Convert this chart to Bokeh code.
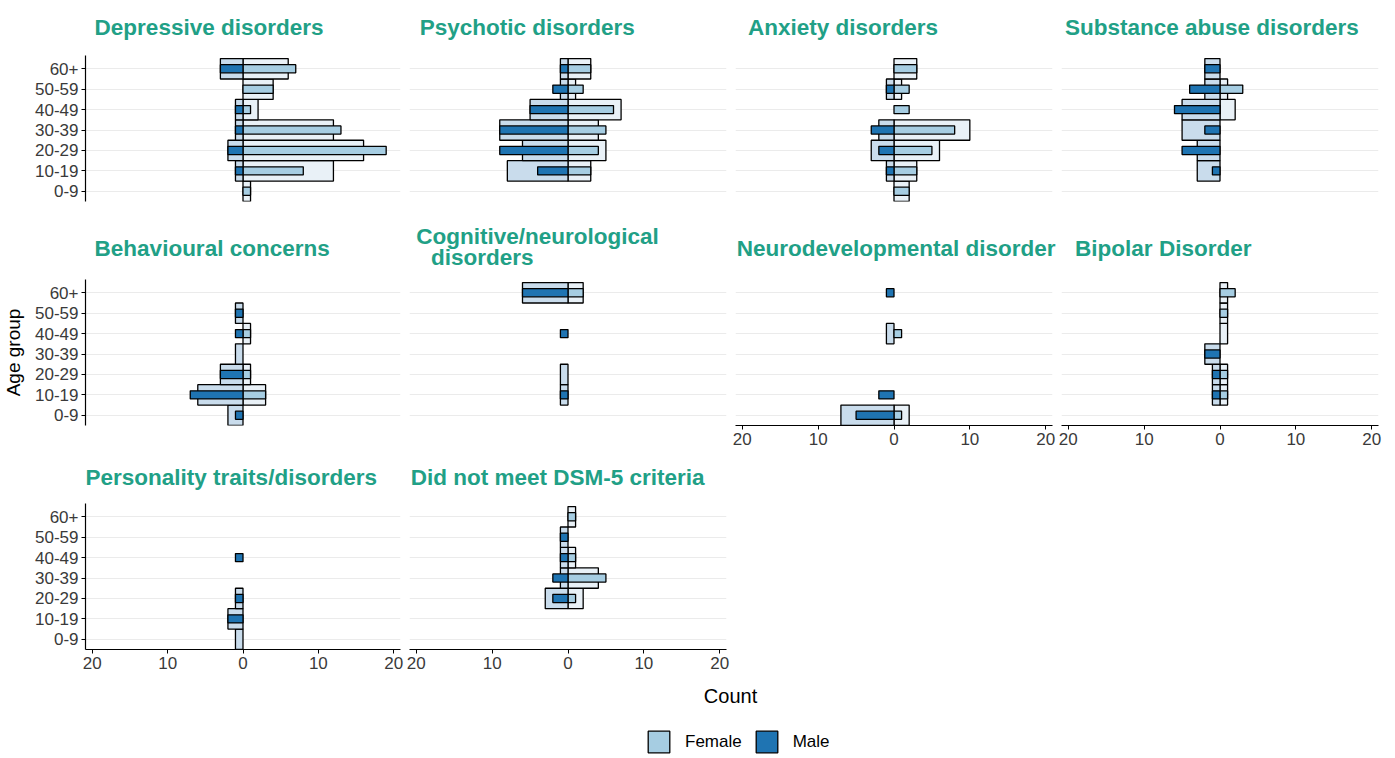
from bokeh.plotting import figure
from bokeh.layouts import gridplot, column
from bokeh.models import Range1d, FixedTicker, Title, Label, Legend, LegendItem
from bokeh.embed import file_html
from bokeh.resources import INLINE

# ---------------- data ----------------
age_groups = ["0-9", "10-19", "20-29", "30-39", "40-49", "50-59", "60+"]
x_ticks = [-20, -10, 0, 10, 20]

# counts per age group (0-9 ... 60+); "outer" = wide bars, "inner" = narrow bars
dep_f_outer = [1, 12, 16, 12, 2, 4, 6]
dep_m_outer = [0, 1, 2, 1, 1, 0, 3]
dep_f_inner = [1, 8, 19, 13, 1, 4, 7]
dep_m_inner = [0, 1, 2, 1, 1, 0, 3]

psy_f_outer = [0, 3, 5, 4, 7, 1, 3]
psy_m_outer = [0, 8, 6, 9, 5, 1, 1]
psy_f_inner = [0, 3, 4, 5, 6, 2, 3]
psy_m_inner = [0, 4, 9, 9, 5, 2, 1]

anx_f_outer = [2, 3, 6, 10, 0, 1, 3]
anx_m_outer = [0, 1, 3, 2, 0, 1, 0]
anx_f_inner = [2, 3, 5, 8, 2, 2, 3]
anx_m_inner = [0, 1, 2, 3, 0, 1, 0]

sub_f_outer = [0, 0, 0, 0, 2, 1, 0]
sub_m_outer = [0, 3, 3, 5, 5, 2, 2]
sub_f_inner = [0, 0, 0, 0, 0, 3, 0]
sub_m_inner = [0, 1, 5, 2, 6, 4, 2]

beh_f_outer = [0, 3, 1, 0, 1, 0, 0]
beh_m_outer = [2, 6, 3, 1, 0, 1, 0]
beh_f_inner = [0, 3, 1, 0, 1, 0, 0]
beh_m_inner = [1, 7, 3, 0, 1, 1, 0]

cog_f_outer = [0, 0, 0, 0, 0, 0, 2]
cog_m_outer = [0, 1, 1, 0, 0, 0, 6]
cog_f_inner = [0, 0, 0, 0, 0, 0, 2]
cog_m_inner = [0, 1, 0, 0, 1, 0, 6]

neu_f_outer = [2, 0, 0, 0, 0, 0, 0]
neu_m_outer = [7, 0, 0, 0, 1, 0, 0]
neu_f_inner = [1, 0, 0, 0, 1, 0, 0]
neu_m_inner = [5, 2, 0, 0, 0, 0, 1]

bip_f_outer = [0, 1, 1, 0, 1, 1, 1]
bip_m_outer = [0, 1, 1, 2, 0, 0, 0]
bip_f_inner = [0, 1, 1, 0, 0, 1, 2]
bip_m_inner = [0, 1, 1, 2, 0, 0, 0]

per_f_outer = [0, 0, 0, 0, 0, 0, 0]
per_m_outer = [1, 2, 1, 0, 0, 0, 0]
per_f_inner = [0, 0, 0, 0, 0, 0, 0]
per_m_inner = [0, 2, 1, 0, 1, 0, 0]

dsm_f_outer = [0, 0, 2, 4, 1, 0, 1]
dsm_m_outer = [0, 0, 3, 1, 1, 1, 0]
dsm_f_inner = [0, 0, 1, 5, 1, 0, 1]
dsm_m_inner = [0, 0, 2, 2, 1, 1, 0]

facets = [
    ("Depressive disorders", dep_f_outer, dep_m_outer, dep_f_inner, dep_m_inner),
    ("Psychotic disorders", psy_f_outer, psy_m_outer, psy_f_inner, psy_m_inner),
    ("Anxiety disorders", anx_f_outer, anx_m_outer, anx_f_inner, anx_m_inner),
    ("Substance abuse disorders", sub_f_outer, sub_m_outer, sub_f_inner, sub_m_inner),
    ("Behavioural concerns", beh_f_outer, beh_m_outer, beh_f_inner, beh_m_inner),
    ("Cognitive/neurological\ndisorders", cog_f_outer, cog_m_outer, cog_f_inner, cog_m_inner),
    ("Neurodevelopmental disorder", neu_f_outer, neu_m_outer, neu_f_inner, neu_m_inner),
    ("Bipolar Disorder", bip_f_outer, bip_m_outer, bip_f_inner, bip_m_inner),
    ("Personality traits/disorders", per_f_outer, per_m_outer, per_f_inner, per_m_inner),
    ("Did not meet DSM-5 criteria", dsm_f_outer, dsm_m_outer, dsm_f_inner, dsm_m_inner),
]
sex_labels = ["Female", "Male"]

# ---------------- style ----------------
FEMALE = "#a6cde2"
MALE = "#1f74b2"
FEMALE_WIDE = "#e9f1f7"
MALE_WIDE = "#c9dcec"
TEAL = "#21a086"
FONT = "Liberation Sans"
TICK_COL = "#3a3a3a"
FRAME_W, FRAME_H = 317, 146
NCOL = 4

ypos = list(range(1, len(age_groups) + 1))
y_over = {y: lab for y, lab in zip(ypos, age_groups)}
x_over = {t: str(abs(t)) for t in x_ticks}


def add_bars(p, vals, side, height, color):
    ys, ls, rs = [], [], []
    for y, v in zip(ypos, vals):
        if v > 0:
            ys.append(y)
            ls.append(-v if side < 0 else 0)
            rs.append(0 if side < 0 else v)
    if ys:
        p.hbar(y=ys, left=ls, right=rs, height=height, fill_color=color,
               line_color="black", line_width=1.3)


def style_axis(ax):
    ax.axis_line_color = "black"
    ax.axis_line_width = 1.2
    ax.major_tick_line_color = "black"
    ax.major_tick_out = 4
    ax.major_tick_in = 0
    ax.minor_tick_line_color = None
    ax.major_label_text_font = FONT
    ax.major_label_text_font_size = "17px"
    ax.major_label_text_color = TICK_COL
    ax.major_label_standoff = 3
    ax.axis_label_text_font = FONT
    ax.axis_label_text_font_style = "normal"
    ax.axis_label_text_font_size = "19px"
    ax.axis_label_text_color = "black"
    ax.axis_label_standoff = 8


tops = [55, 66, 50]
bottoms = [12, 28, 28]
title_place = [("top", 28), ("bottom", 37), ("top", 23)]
grid = [[None] * NCOL for _ in range(3)]


def title_model(text, valign, standoff):
    off = max(0.0, 0.1 * (FRAME_W - 11.3 * len(text)))
    return Title(text=text, align="left", offset=off, standoff=standoff,
                 vertical_align=valign, text_font=FONT, text_font_style="bold",
                 text_font_size="22.5px", text_color=TEAL)


for i, (title, f_out, m_out, f_in, m_in) in enumerate(facets):
    r, c = divmod(i, NCOL)
    show_x = (i + NCOL) >= len(facets)
    show_y = c == 0
    left = 83 if c == 0 else 4
    right = 5
    p = figure(width=left + FRAME_W + right, height=tops[r] + FRAME_H + bottoms[r],
               x_range=Range1d(-20.9, 20.9), y_range=Range1d(0.5, 7.65),
               x_axis_location="below" if show_x else None,
               y_axis_location="left" if show_y else None,
               output_backend="svg", toolbar_location=None, tools="",
               min_border_left=left, min_border_right=right,
               min_border_top=tops[r], min_border_bottom=bottoms[r])
    p.outline_line_color = None
    p.background_fill_color = "white"
    p.xgrid.visible = False
    p.ygrid.ticker = FixedTicker(ticks=ypos)
    p.ygrid.grid_line_color = "#ebebeb"
    p.ygrid.grid_line_width = 1.2
    if show_x:
        p.xaxis.ticker = FixedTicker(ticks=x_ticks)
        p.xaxis.major_label_overrides = x_over
        style_axis(p.xaxis[0])
    if show_y:
        p.yaxis.ticker = FixedTicker(ticks=ypos)
        p.yaxis.major_label_overrides = y_over
        style_axis(p.yaxis[0])
        if r == 1:
            p.yaxis.axis_label = "Age group"

    add_bars(p, f_out, 1, 1.0, FEMALE_WIDE)
    add_bars(p, m_out, -1, 1.0, MALE_WIDE)
    add_bars(p, f_in, 1, 0.4, FEMALE)
    add_bars(p, m_in, -1, 0.4, MALE)

    lines = title.split("\n")
    if len(lines) == 1:
        valign, so = title_place[r]
        p.add_layout(title_model(lines[0], valign, so), "above")
    else:
        # lower line first (closest to the panel), then the upper line
        p.add_layout(title_model(lines[1], "bottom", 19), "above")
        p.add_layout(title_model(lines[0], "bottom", -31), "above")
    grid[r][c] = p

gp = gridplot(grid, toolbar_location=None)

# ---------------- bottom: axis title + legend ----------------
total_w = 83 + FRAME_W + 5 + (NCOL - 1) * (4 + FRAME_W + 5)
bot = figure(width=total_w, height=80, x_range=Range1d(0, 1), y_range=Range1d(0, 1),
             x_axis_location=None, y_axis_location=None,
             output_backend="svg", toolbar_location=None, tools="",
             min_border_left=0, min_border_right=0, min_border_top=0, min_border_bottom=0)
bot.outline_line_color = None
bot.xgrid.visible = False
bot.ygrid.visible = False
bot.add_layout(Label(x=730, y=62, x_units="screen", y_units="screen", text="Count",
                     text_align="center", text_baseline="middle", text_font=FONT,
                     text_font_size="20px", text_color="black"))
nan = float("nan")
rf = bot.hbar(y=[nan], left=[nan], right=[nan], height=1, fill_color=FEMALE,
              line_color="black", line_width=1.3)
rm = bot.hbar(y=[nan], left=[nan], right=[nan], height=1, fill_color=MALE,
              line_color="black", line_width=1.3)
leg = Legend(items=[LegendItem(label=sex_labels[0], renderers=[rf]),
                    LegendItem(label=sex_labels[1], renderers=[rm])],
             orientation="horizontal", location=(645, 2), glyph_width=27, glyph_height=27,
             label_standoff=13, spacing=11, padding=0, margin=0,
             border_line_color=None, background_fill_alpha=0,
             label_text_font=FONT, label_text_font_size="17px", label_text_color="black")
bot.add_layout(leg)

layout = column(gp, bot)
open("out.html", "w").write(file_html(layout, INLINE))
